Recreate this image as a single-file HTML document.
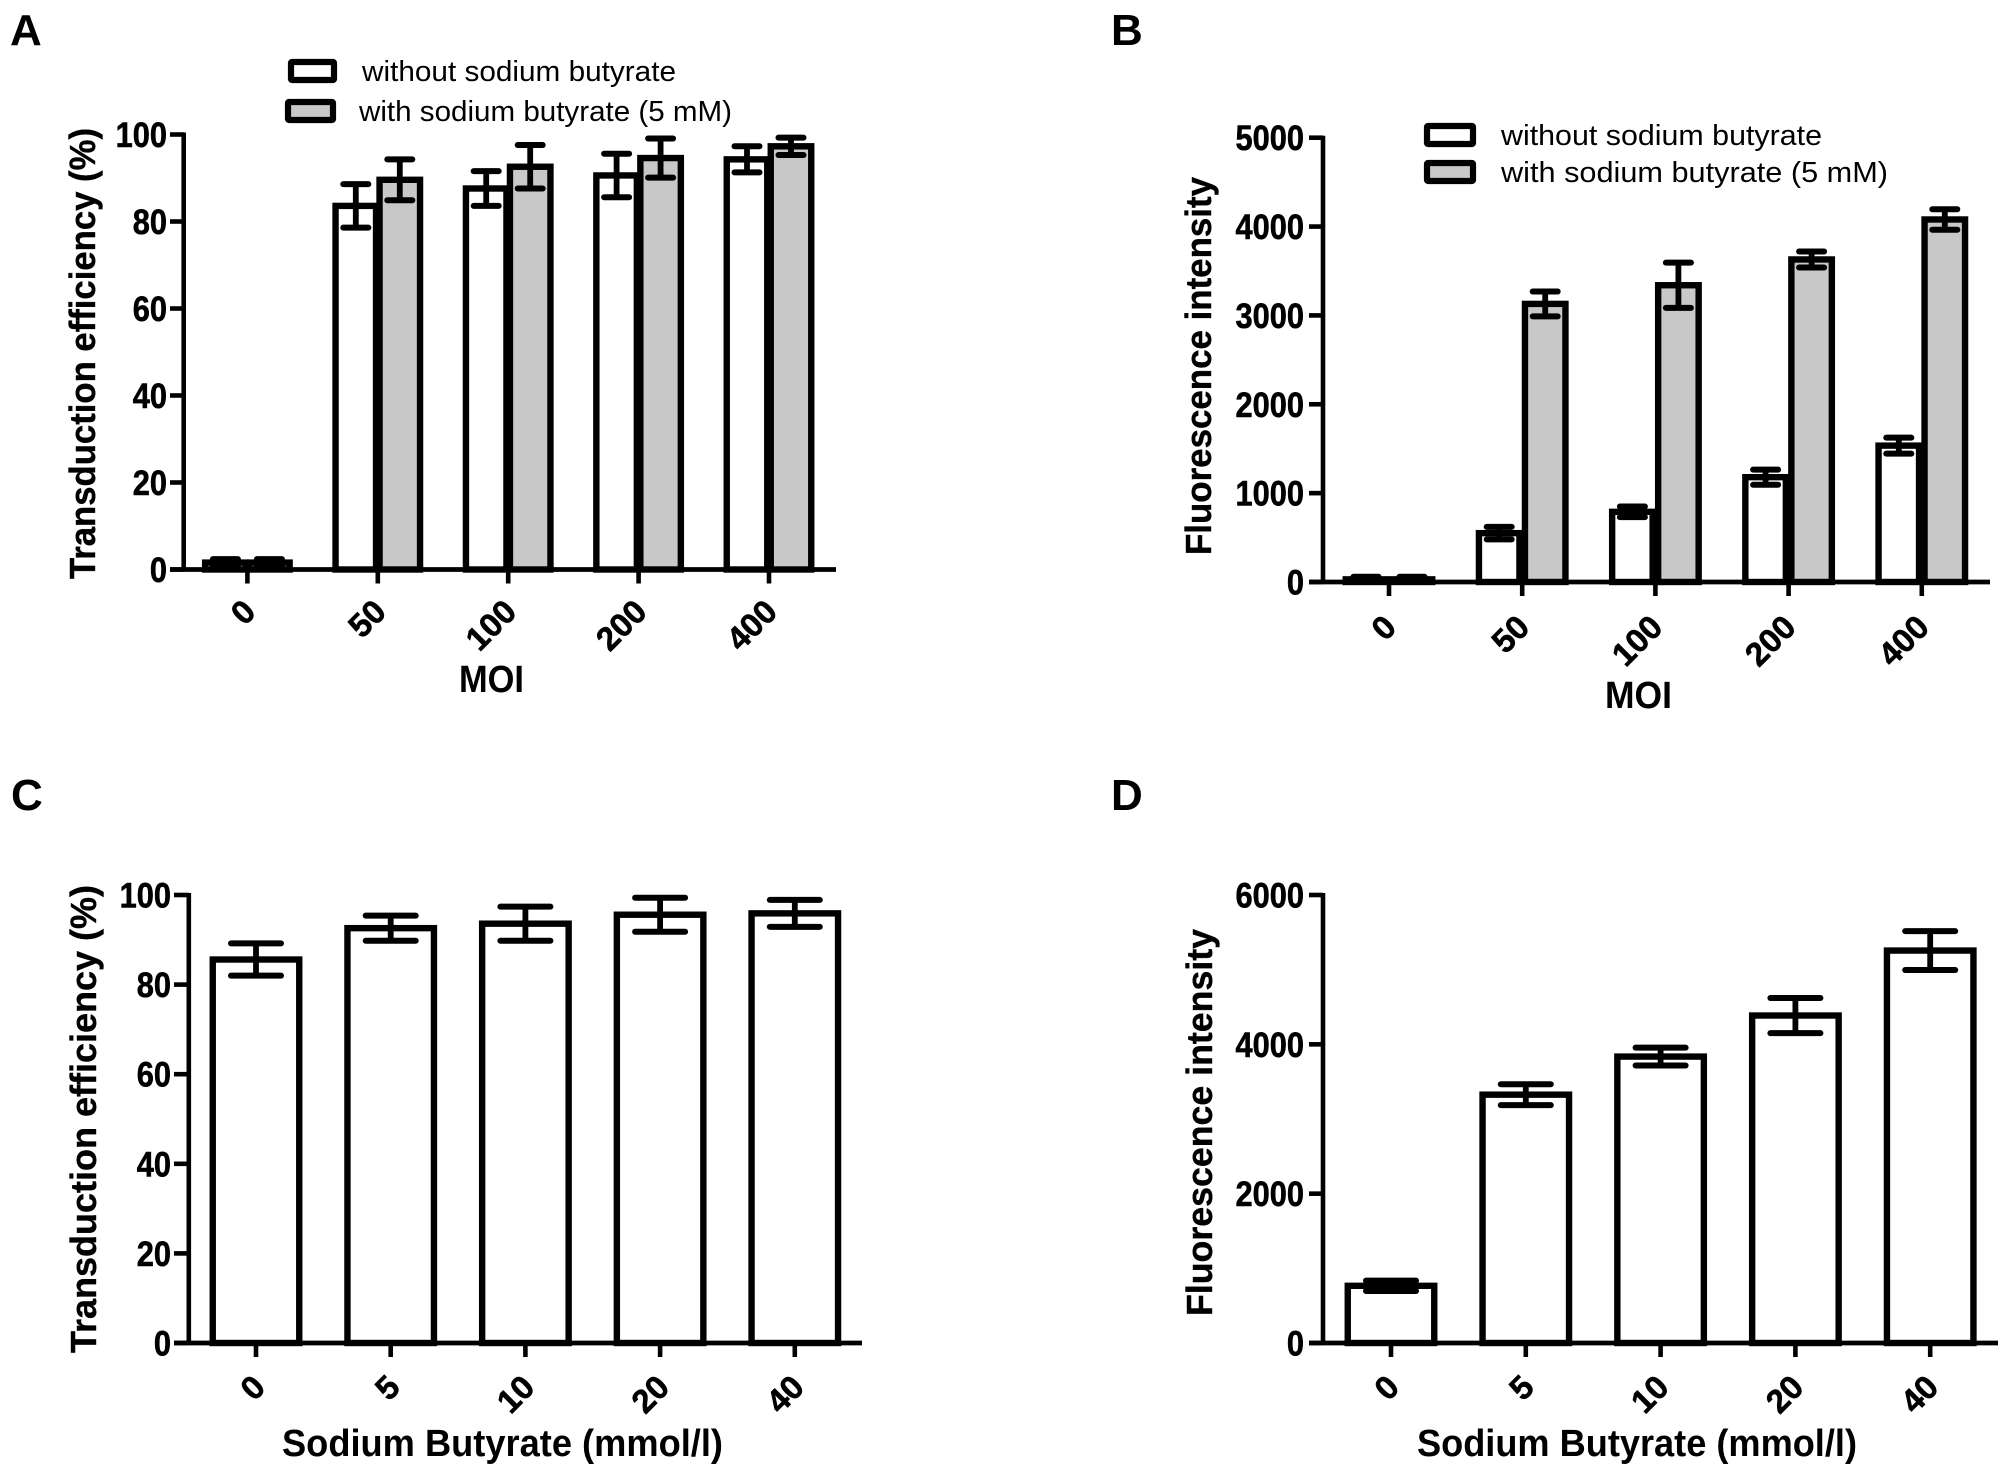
<!DOCTYPE html>
<html>
<head>
<meta charset="utf-8">
<title>Sodium butyrate transduction charts</title>
<style>
html,body{margin:0;padding:0;background:#fff;}
svg{display:block;}
text{font-family:"Liberation Sans",sans-serif;fill:#000;}
</style>
</head>
<body>
<svg id="figure" xmlns="http://www.w3.org/2000/svg" width="2008" height="1473" viewBox="0 0 2008 1473"></svg>
<script>
// Panel A data
const moiCategories = ['0', '50', '100', '200', '400'];
const aTicks = [0, 20, 40, 60, 80, 100];
const aWithout = [2, 84, 88, 91, 94.7];
const aWithoutErr = [0.8, 5, 4, 5, 3];
const aWith = [2, 90, 93, 95, 97.7];
const aWithErr = [0.8, 4.7, 5, 4.5, 2];
// Panel B data
const bTicks = [0, 1000, 2000, 3000, 4000, 5000];
const bWithout = [50, 570, 810, 1200, 1555];
const bWithoutErr = [30, 70, 60, 85, 90];
const bWith = [50, 3150, 3360, 3650, 4100];
const bWithErr = [30, 140, 255, 90, 115];
// Panel C data
const doseCategories = ['0', '5', '10', '20', '40'];
const cTicks = [0, 20, 40, 60, 80, 100];
const cValues = [86, 93, 94, 96, 96.3];
const cErr = [3.6, 2.8, 3.8, 3.8, 3];
// Panel D data
const dTicks = [0, 2000, 4000, 6000];
const dValues = [790, 3350, 3860, 4410, 5280];
const dErr = [70, 140, 120, 235, 260];

const svg = document.getElementById('figure');
const NS = 'http://www.w3.org/2000/svg';
const INK = '#000';
const GRAY = '#c8c8c8';
const MARK_SHIFT = 1.8;

function mk(tag, attrs, parent) {
  const el = document.createElementNS(NS, tag);
  for (const k in attrs) el.setAttribute(k, attrs[k]);
  (parent || svg).appendChild(el);
  return el;
}
function line(x1, y1, x2, y2, w, parent, cap) {
  return mk('line', {x1, y1, x2, y2, stroke: INK, 'stroke-width': w, 'stroke-linecap': cap || 'butt'}, parent);
}

function drawPanel(p) {
  const g = mk('g', {});
  
  

  const yMax = p.ticks[p.ticks.length - 1];
  const yScale = v => p.y0 - (v / yMax) * (p.y0 - p.yTop);
  const xScale = i => p.x0 + i * p.step;

  // Bars and error bars
  p.series.forEach(s => {
    s.values.forEach((v, i) => {
      const cx = xScale(i) + s.offset;
      const top = yScale(v) + MARK_SHIFT;
      const bar = mk('rect', {
        x: cx - s.w / 2, y: top, width: s.w, height: Math.max(0, p.y0 - top),
        fill: s.fill, stroke: INK, 'stroke-width': 6.4
      }, g);
      
      
    });
  });
  p.series.forEach(s => {
    s.values.forEach((v, i) => {
      const cx = xScale(i) + s.offset;
      const hi = yScale(v + s.err[i]) + MARK_SHIFT;
      const lo = yScale(v - s.err[i]) + MARK_SHIFT;
      const eg = mk('g', {}, g);
      
      
      line(cx, hi, cx, lo, 5.8, eg);
      line(cx - s.cap / 2, hi, cx + s.cap / 2, hi, 6, eg, 'round');
      line(cx - s.cap / 2, lo, cx + s.cap / 2, lo, 6, eg, 'round');
    });
  });

  // Axes
  const yAxis = line(p.axisX, p.yTop - 2, p.axisX, p.y0 + 2, 4.6, g);
  
  
  const xAxis = line(p.tickL, p.y0, p.xEnd, p.y0, 4.8, g);
  
  

  // Y ticks and labels
  p.ticks.forEach(t => {
    const y = yScale(t);
    const tick = line(p.tickL, y, p.axisX, y, 4.6, g);
    
    
    const lab = mk('text', {
      'text-anchor': 'end',
      'font-weight': 'bold',
      'font-size': 35,
      stroke: '#000',
      'stroke-width': 0.6,
      transform: 'translate(' + p.labelR + ',' + (y + 12.5) + ') scale(0.88,1)'
    }, g);
    lab.textContent = String(t);
    
    
  });

  // X ticks and labels
  p.categories.forEach((c, i) => {
    const x = xScale(i);
    const tick = line(x, p.y0, x, p.y0 + 14, 4.6, g);
    
    
    const lab = mk('text', {
      'text-anchor': 'end',
      'font-weight': 'bold',
      'font-size': 33,
      stroke: '#000',
      'stroke-width': 0.6,
      'dominant-baseline': 'central',
      transform: 'translate(' + (x + p.xlDx) + ',' + (p.y0 + p.xlDy) + ') rotate(-45)'
    }, g);
    lab.textContent = c;
    
    
  });
}

function label(str, x, y, size, opts) {
  const o = opts || {};
  const attrs = {x: x, y: y, 'font-size': size, 'font-weight': o.weight || 'bold'};
  if (o.anchor) attrs['text-anchor'] = o.anchor;
  if (o.len) { attrs.textLength = o.len; attrs.lengthAdjust = 'spacingAndGlyphs'; }
  if (o.rotate) attrs.transform = 'rotate(-90 ' + x + ' ' + y + ')';
  if (o.heavy) { attrs.stroke = '#000'; attrs['stroke-width'] = o.heavy; }
  const t = mk('text', attrs);
  t.textContent = str;
  return t;
}

drawPanel({
  name: 'panel-a', categories: moiCategories, ticks: aTicks,
  axisX: 183.7, tickL: 170, xEnd: 836, yTop: 134.5, y0: 569.5,
  x0: 247.4, step: 130.4, labelR: 167, xlDx: 2, xlDy: 36,
  series: [
    {key: 'without', values: aWithout, err: aWithoutErr, fill: '#fff', offset: -22, w: 40.5, cap: 25},
    {key: 'with', values: aWith, err: aWithErr, fill: GRAY, offset: 22, w: 40.5, cap: 25}
  ]
});
drawPanel({
  name: 'panel-b', categories: moiCategories, ticks: bTicks,
  axisX: 1323, tickL: 1309, xEnd: 1990, yTop: 137.7, y0: 582,
  x0: 1389, step: 133.2, labelR: 1304, xlDx: 1, xlDy: 39,
  series: [
    {key: 'without', values: bWithout, err: bWithoutErr, fill: '#fff', offset: -23, w: 40.5, cap: 25},
    {key: 'with', values: bWith, err: bWithErr, fill: GRAY, offset: 23, w: 40.5, cap: 25}
  ]
});
drawPanel({
  name: 'panel-c', categories: doseCategories, ticks: cTicks,
  axisX: 188.8, tickL: 174, xEnd: 862, yTop: 895, y0: 1343,
  x0: 256, step: 134.7, labelR: 171, xlDx: 3, xlDy: 38,
  series: [
    {key: 'value', values: cValues, err: cErr, fill: '#fff', offset: 0, w: 86.5, cap: 50}
  ]
});
drawPanel({
  name: 'panel-d', categories: doseCategories, ticks: dTicks,
  axisX: 1323, tickL: 1309, xEnd: 1998, yTop: 895, y0: 1343,
  x0: 1391, step: 134.8, labelR: 1304, xlDx: 2, xlDy: 38,
  series: [
    {key: 'value', values: dValues, err: dErr, fill: '#fff', offset: 0, w: 86.5, cap: 50}
  ]
});

// Panel letters
const letterA = label('A', 10, 45, 44);


const letterB = label('B', 1111, 45, 44);


const letterC = label('C', 11, 810, 44);


const letterD = label('D', 1111, 810, 44);



// Axis titles
const yTitleA = label('Transduction efficiency (%)', 95, 579, 36, {rotate: true, len: 451, heavy: 0.4});


const yTitleB = label('Fluorescence intensity', 1211, 555, 36, {rotate: true, len: 378, heavy: 0.4});


const yTitleC = label('Transduction efficiency (%)', 96, 1353, 36, {rotate: true, len: 468, heavy: 0.4});


const yTitleD = label('Fluorescence intensity', 1212, 1316, 36, {rotate: true, len: 387, heavy: 0.4});



const xTitleA = label('MOI', 459, 692, 38, {len: 65});


const xTitleB = label('MOI', 1605, 708, 38, {len: 67});


const xTitleC = label('Sodium Butyrate (mmol/l)', 282, 1456, 38, {len: 441});


const xTitleD = label('Sodium Butyrate (mmol/l)', 1417, 1456, 38, {len: 440});



// Legends
function swatch(x, y, w, h, fill) {
  return mk('rect', {x: x + 3, y: y + 3, width: w - 6, height: h - 6, rx: 1, fill: fill, stroke: INK, 'stroke-width': 6.2, 'stroke-linejoin': 'round'});
}
const swA1 = swatch(288, 59, 49, 24, '#fff');


const swA2 = swatch(285, 99, 51, 24, GRAY);


const lgA1 = label('without sodium butyrate', 362, 81, 29, {weight: 'normal', len: 314});


const lgA2 = label('with sodium butyrate (5 mM)', 359, 121, 29, {weight: 'normal', len: 373});



const swB1 = swatch(1424, 123, 52, 24, '#fff');


const swB2 = swatch(1424, 160, 52, 24, GRAY);


const lgB1 = label('without sodium butyrate', 1501, 145, 29, {weight: 'normal', len: 321});


const lgB2 = label('with sodium butyrate  (5 mM)', 1501, 182, 29, {weight: 'normal', len: 387});


</script>
</body>
</html>
